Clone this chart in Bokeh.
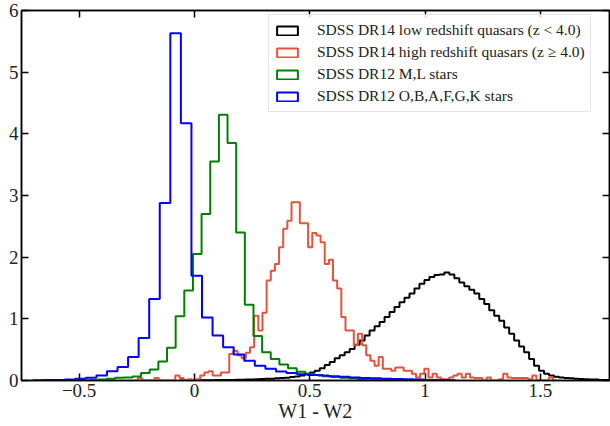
import numpy as np
from bokeh.plotting import figure
from bokeh.models import Range1d, LinearAxis, FixedTicker, Legend, LegendItem, ColumnDataSource
from bokeh.embed import file_html
from bokeh.resources import INLINE

# ---------------- data (normalised histograms) ----------------
series_labels = [
    "SDSS DR14 low redshift quasars (z < 4.0)",
    "SDSS DR14 high redshift quasars (z \u2265 4.0)",
    "SDSS DR12 M,L stars",
    "SDSS DR12 O,B,A,F,G,K stars",
]

# low redshift quasars: first bin edge, bin width, densities
lowz_start = -0.0618
lowz_width = 0.021617
lowz_values = [0.001, 0.002, 0.002, 0.003, 0.004, 0.005, 0.006, 0.007, 0.008, 0.009,
               0.010, 0.012, 0.014, 0.016, 0.018, 0.021, 0.024, 0.027, 0.030, 0.035,
               0.040, 0.045, 0.055, 0.065, 0.080, 0.100, 0.130, 0.160, 0.200, 0.250,
               0.300, 0.360, 0.410, 0.460, 0.510, 0.580, 0.650, 0.730, 0.810, 0.880,
               0.950, 1.030, 1.110, 1.190, 1.270, 1.340, 1.410, 1.490, 1.570, 1.630,
               1.680, 1.710, 1.720, 1.750, 1.720, 1.660, 1.590, 1.530, 1.470, 1.410,
               1.320, 1.240, 1.140, 1.050, 0.970, 0.860, 0.760, 0.650, 0.550, 0.460,
               0.350, 0.240, 0.160, 0.110, 0.080, 0.060, 0.050, 0.040, 0.035, 0.030,
               0.025, 0.020, 0.018, 0.015, 0.010, 0.008, 0.005]

# high redshift quasars
highz_start = -0.263
highz_width = 0.018
highz_values = [0.00, 0.04, 0.00, 0.00, 0.00, 0.04, 0.00, 0.00, 0.00, 0.00,
                0.08, 0.04, 0.00, 0.02, 0.00, 0.02, 0.08, 0.13, 0.15, 0.08,
                0.08, 0.13, 0.13, 0.43, 0.48, 0.41, 0.36, 0.45, 0.54, 1.05,
                0.81, 1.10, 1.62, 1.78, 1.89, 2.16, 2.46, 2.59, 2.89, 2.89,
                2.55, 2.55, 2.16, 2.39, 2.35, 2.24, 1.89, 1.96, 1.62, 1.49,
                1.03, 0.81, 0.81, 0.57, 0.76, 0.57, 0.41, 0.32, 0.24, 0.38,
                0.19, 0.19, 0.16, 0.21, 0.21, 0.16, 0.16, 0.11, 0.05, 0.11,
                0.19, 0.05, 0.11, 0.05, 0.02, 0.02, 0.05, 0.08, 0.11, 0.05,
                0.11, 0.05, 0.04, 0.04, 0.00, 0.05, 0.00, 0.00, 0.02, 0.11,
                0.05, 0.04, 0.04, 0.04, 0.04, 0.02, 0.08, 0.00, 0.00, 0.00,
                0.05, 0.00]

# M,L stars
ml_start = -0.494
ml_width = 0.0375
ml_values = [0.005, 0.010, 0.015, 0.030, 0.045, 0.050, 0.065, 0.120, 0.180, 0.310,
             0.530, 1.040, 1.460, 2.050, 2.700, 3.550, 4.310, 3.850, 2.400, 1.230,
             0.720, 0.460, 0.350, 0.260, 0.200, 0.140, 0.110, 0.090, 0.070, 0.055,
             0.045, 0.035, 0.025, 0.020, 0.015, 0.010, 0.008, 0.005, 0.003]

# O,B,A,F,G,K stars
obafgk_start = -0.700
obafgk_width = 0.0458
obafgk_values = [0.005, 0.008, 0.010, 0.015, 0.030, 0.045, 0.080, 0.150, 0.220, 0.380,
                 0.690, 1.320, 2.880, 5.630, 4.170, 1.700, 1.020, 0.730, 0.540, 0.420,
                 0.320, 0.240, 0.190, 0.145, 0.120, 0.100, 0.090, 0.080, 0.070, 0.060,
                 0.050, 0.040, 0.035, 0.030, 0.025, 0.020, 0.015, 0.010, 0.010, 0.005]

x_ticks = [-0.5, 0.0, 0.5, 1.0, 1.5]
y_ticks = [0, 1, 2, 3, 4, 5, 6]
x_label = "W1 - W2"

colors = ["#000000", "#e5533a", "#008000", "#0000ff"]

# ---------------- figure ----------------
FONT = "Liberation Serif"

p = figure(width=610, height=426, output_backend="svg", toolbar_location=None,
           x_range=Range1d(-0.75, 1.8), y_range=Range1d(0, 6),
           min_border_left=21, min_border_right=1, min_border_top=10, min_border_bottom=46)
p.xgrid.visible = False
p.ygrid.visible = False
p.outline_line_color = "black"
p.outline_line_width = 1.5
p.background_fill_color = "white"
p.border_fill_color = "white"


def style_axis(ax, ticks, show_labels):
    ax.ticker = FixedTicker(ticks=ticks)
    ax.major_tick_in = 7
    ax.major_tick_out = 0
    ax.minor_tick_line_color = None
    ax.major_tick_line_width = 1.5
    ax.major_tick_line_color = "black"
    ax.axis_line_color = "black"
    ax.axis_line_width = 1.5
    ax.major_label_text_font = FONT
    ax.major_label_text_color = "#222222"
    if show_labels:
        ax.major_label_text_font_size = "19px"
        ax.major_label_standoff = 3
    else:
        ax.major_label_text_font_size = "1px"
        ax.major_label_text_color = None
        ax.major_label_standoff = 0


style_axis(p.xaxis[0], x_ticks, True)
style_axis(p.yaxis[0], y_ticks, True)
p.xaxis[0].major_label_overrides = {-0.5: "\u22120.5"}
p.xaxis[0].axis_label = x_label
p.xaxis[0].axis_label_text_font = FONT
p.xaxis[0].axis_label_text_font_style = "normal"
p.xaxis[0].axis_label_text_font_size = "20px"
p.xaxis[0].axis_label_text_color = "#222222"
p.xaxis[0].axis_label_standoff = 0

top_axis = LinearAxis()
style_axis(top_axis, x_ticks, False)
p.add_layout(top_axis, "above")
right_axis = LinearAxis()
style_axis(right_axis, y_ticks, False)
p.add_layout(right_axis, "right")


def outline(start, width, vals):
    vals = np.asarray(vals, dtype=float)
    edges = start + width * np.arange(len(vals) + 1)
    xs = np.repeat(edges, 2)
    ys = np.concatenate([[0.0], np.repeat(vals, 2), [0.0]])
    return xs, ys


all_series = [
    (lowz_start, lowz_width, lowz_values),
    (highz_start, highz_width, highz_values),
    (ml_start, ml_width, ml_values),
    (obafgk_start, obafgk_width, obafgk_values),
]

items = []
for (start, width, vals), col, lab in zip(all_series, colors, series_labels):
    xs, ys = outline(start, width, vals)
    p.line(xs, ys, line_color=col, line_width=2)
    # legend proxy: an outlined box with no drawable data (NaN)
    proxy = p.quad(source=ColumnDataSource(dict(l=[np.nan], r=[np.nan], t=[np.nan], b=[np.nan])),
                   left="l", right="r", top="t", bottom="b",
                   fill_color="white", fill_alpha=0, line_color=col, line_width=2)
    items.append(LegendItem(label=lab, renderers=[proxy]))

legend = Legend(items=items, location=(247, 268), margin=0,
                padding=5, spacing=2, glyph_width=26, glyph_height=11,
                label_standoff=17, label_height=20,
                label_text_font=FONT, label_text_font_size="15.5px",
                label_text_color="#222222",
                border_line_color="#cccccc", border_line_width=1,
                background_fill_color="white", background_fill_alpha=0.8)
p.add_layout(legend, "center")

open("out.html", "w").write(file_html(p, INLINE))
